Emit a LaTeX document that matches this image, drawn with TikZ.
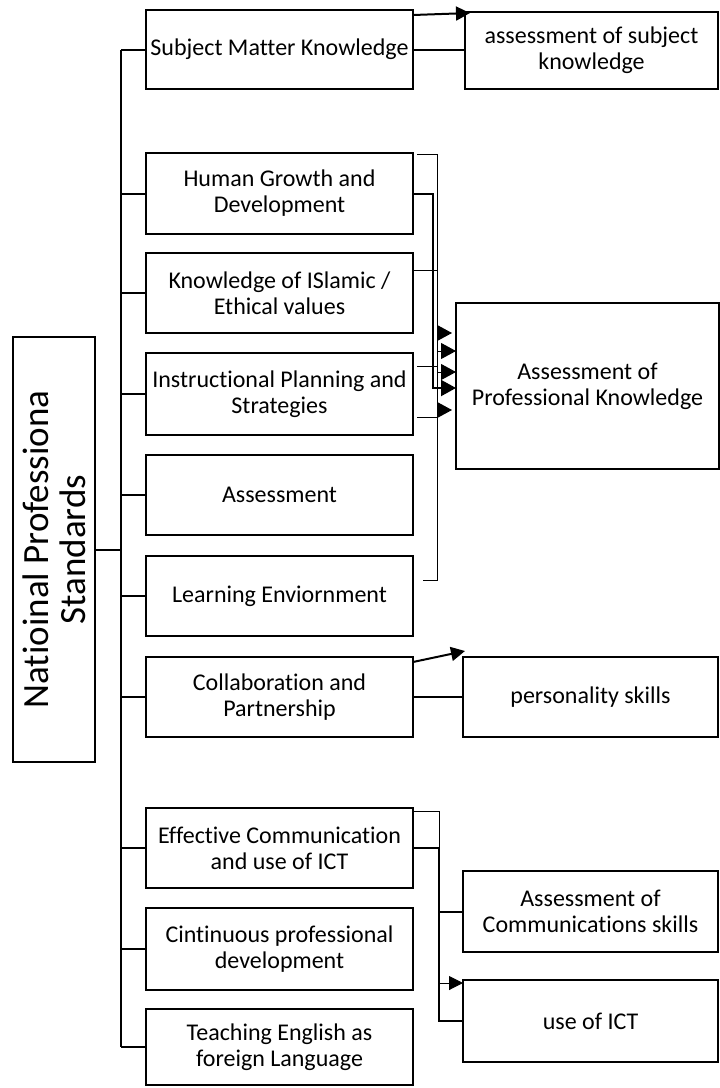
\documentclass[tikz,border=0pt]{standalone}
\usepackage{fontspec}
\setmainfont{Carlito}[Ligatures=CommonOff]
\usetikzlibrary{arrows.meta,calc}
\begin{document}
\begin{tikzpicture}[x=1pt,y=-1pt,
  box/.style={draw,line width=2.6pt,inner sep=0pt,outer sep=0pt,align=center,
    font=\fontsize{24}{26}\selectfont},
  lbox/.style={box,minimum width=267pt},
  rbox/.style={box,minimum width=255pt},
  conn/.style={line width=2pt},
  thinl/.style={line width=1pt},
  tip/.style={-{Triangle[length=14pt,width=14pt]}},
  bigtip/.style={-{Triangle[length=15pt,width=16pt]}}
]
\useasboundingbox (0,0) rectangle (720,1088);

% main vertical box
\node[box,rotate=90,minimum width=425pt,minimum height=82pt,
  font=\fontsize{37}{37}\selectfont] (main) at (54,549.5)
  {Natioinal Professiona\\Standards};

% left column
\node[lbox,minimum height=79pt] (smk) at (279.5,49.5) {Subject Matter Knowledge};
\node[lbox,minimum height=81pt] (hg) at (279.5,193.5) {Human Growth and\\Development};
\node[lbox,minimum height=80pt] (ki) at (279.5,293) {Knowledge of ISlamic /\\Ethical values};
\node[lbox,minimum height=82pt] (ip) at (279.5,394) {Instructional Planning and\\Strategies};
\node[lbox,minimum height=80pt] (as) at (279.5,495) {Assessment};
\node[lbox,minimum height=80pt] (le) at (279.5,596) {Learning Enviornment};
\node[lbox,minimum height=80pt] (cp) at (279.5,697) {Collaboration and\\Partnership};
\node[lbox,minimum height=80pt] (ec) at (279.5,848) {Effective Communication\\and use of ICT};
\node[lbox,minimum height=82pt] (cpd) at (279.5,949) {Cintinuous professional\\development};
\node[lbox,minimum height=76pt] (te) at (279.5,1047) {Teaching English as\\foreign Language};

% right column
\node[box,minimum width=253pt,minimum height=77pt] (ask) at (591.5,50.5) {assessment of subject\\knowledge};
\node[box,minimum width=263pt,minimum height=166pt] (pk) at (587.5,386) {Assessment of\\Professional Knowledge};
\node[rbox,minimum height=80pt] (ps) at (590.5,697) {personality skills};
\node[rbox,minimum height=81pt] (acs) at (590.5,911.5) {Assessment of\\Communications skills};
\node[rbox,minimum height=82pt] (ict) at (590.5,1021) {use of ICT};

% trunk
\coordinate (tt) at (121,49.5);
\draw[conn] (smk.west -| tt) -- (te.west -| tt);
\draw[conn] (main.south) -- (main.south -| tt);
\foreach \b in {smk,hg,ki,ip,as,le,cp,ec,cpd,te}
  \draw[conn] (\b.west -| tt) -- (\b.west);

% subject matter
\draw[conn] (smk.east) -- (smk.east -| ask.west);
\draw[conn,tip] ([yshift=-5pt]smk.north east) -- ([xshift=5pt,yshift=-1pt]ask.north west);

% professional knowledge bracket
\coordinate (brt) at (437,154);
\coordinate (brb) at (437,580);
\draw[thinl] ([xshift=4pt,yshift=-1pt]hg.north east) -- (brt) -- (brb) -- ++(-14,0);
\draw[thinl] ([yshift=23pt]ki.east) -- ([yshift=23pt]ki.east -| brt);
\draw[thinl] ([xshift=4pt,yshift=28pt]ip.east) -- ([yshift=28pt]ip.east -| brt);
\draw[thinl] ([xshift=4pt,yshift=38pt]as.north east) -- ([yshift=38pt]as.north east -| brt);
\coordinate (a1) at ($(pk.west)+(0,-53)$);
\coordinate (a2) at ($(pk.west)+(0,-35)$);
\coordinate (a3) at ($(pk.west)+(0,-14)$);
\coordinate (a4) at ($(pk.west)+(0,24)$);
\draw[thinl,bigtip] (a1 -| brt) -- ([xshift=-4pt]a1);
\draw[thinl,bigtip] (a2 -| brt) -- (a2);
\draw[thinl,bigtip] (a3 -| brt) -- (a3);
\draw[thinl,bigtip] (a4 -| brt) -- ([xshift=-4pt]a4);
\draw[conn,bigtip] (hg.east) -| ($(pk.west)+(-23,2)$) -- ($(pk.west)+(0,2)$);

% collaboration
\draw[conn] (cp.east) -- (ps.west);
\draw[conn,tip] ([yshift=-5pt]cp.north east) -- ([xshift=2pt,yshift=6pt]ps.north west);

% effective communication
\coordinate (eb) at ($(ec.east)+(26,0)$);
\draw[thinl] ([yshift=-3pt]ec.north east) -| (eb);
\draw[conn] (ec.east) -- (eb) -- (eb |- ict.west) -- (ict.west);
\draw[conn] (eb |- acs.west) -- (acs.west);
\coordinate (a5) at ($(ict.north west)+(0,3)$);
\draw[thinl,tip] (a5 -| eb) -- (a5);
\end{tikzpicture}
\end{document}
